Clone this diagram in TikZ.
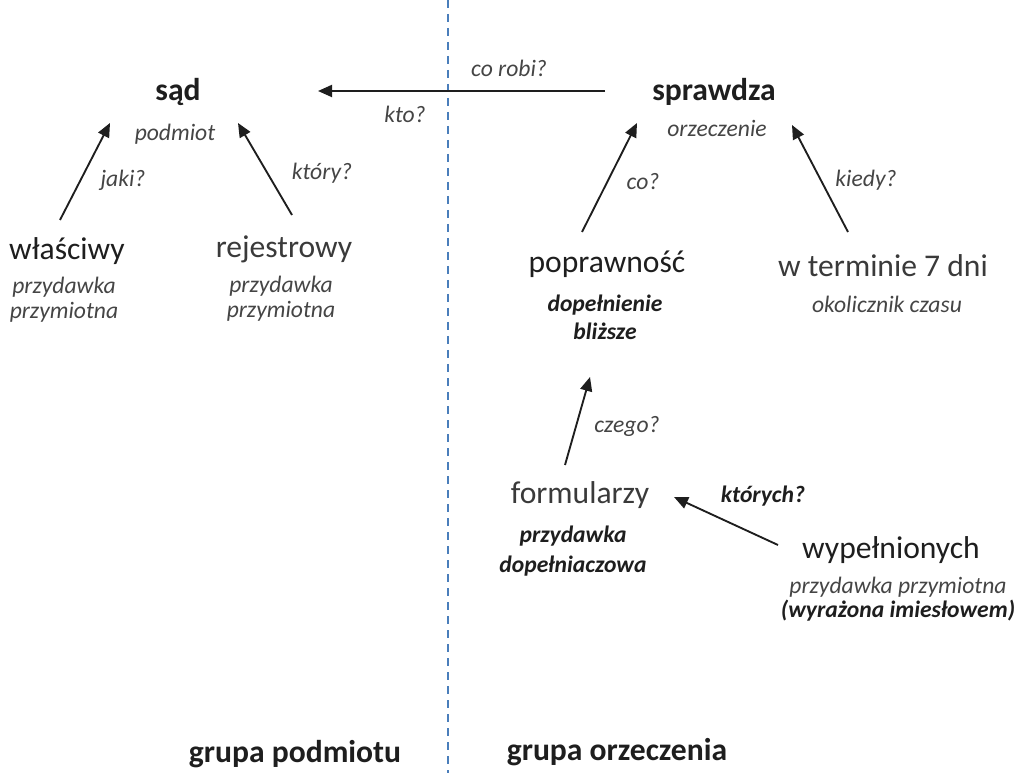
\documentclass[tikz,border=0pt]{standalone}
\usepackage{fontspec}
\setmainfont{Carlito}
\usetikzlibrary{positioning,arrows.meta}

\definecolor{ink}{HTML}{1E1E1E}
\definecolor{soft}{HTML}{3A3A3A}
\definecolor{note}{HTML}{454545}
\definecolor{split}{HTML}{4A7EBB}

\tikzset{
  word/.style={inner sep=0pt, anchor=base, text=ink, font=\fontsize{23.7}{28}\selectfont},
  head/.style={word, font=\fontsize{23.7}{28}\selectfont\bfseries},
  thin/.style={word, text=soft},
  role/.style={inner sep=0pt, anchor=base, align=center, text=note, font=\fontsize{17.7}{18.75}\selectfont\itshape},
  rolebf/.style={role, text=ink, font=\fontsize{17.7}{21}\selectfont\bfseries\itshape},
  arr/.style={-{Triangle[length=10.5pt,width=9pt]}, line width=1.4pt, draw=ink},
}

\begin{document}
\begin{tikzpicture}[x=0.75pt,y=-0.75pt]
  \useasboundingbox (0,0) rectangle (1024,773);

  % --- split between the two groups ---
  \draw[split, line width=1.5pt, dash pattern=on 6pt off 4.5pt] (448,0) -- (448,773);

  % --- subject group ---
  \node[head] (sad) at (178,101) {sąd};
  \node[role] (podmiot) at (175,141) {podmiot};
  \node[word] (wlasciwy) at (67,260) {właściwy};
  \node[role] (wlasciwyRole) at (64,319) {przydawka\\przymiotna};
  \node[thin] (rejestrowy) at (284,258) {rejestrowy};
  \node[role] (rejestrowyRole) at (281,318) {przydawka\\przymiotna};

  % --- predicate group ---
  \node[head] (sprawdza) at (714,101) {sprawdza};
  \node[role] (orzeczenie) at (717,137) {orzeczenie};
  \node[word] (poprawnosc) at (607,273) {poprawność};
  \node[rolebf] (poprawnoscRole) at (605,340) {dopełnienie\\bliższe};
  \node[thin] (termin) at (883,277) {w terminie 7 dni};
  \node[role] (terminRole) at (887,313) {okolicznik czasu};
  \node[thin] (formularzy) at (580,503) {formularzy};
  \node[rolebf, font=\fontsize{17.7}{22.5}\selectfont\bfseries\itshape] (formularzyRole) at (573,572) {przydawka\\dopełniaczowa};
  \node[word] (wypelnionych) at (891,558) {wypełnionych};
  \node[role, font=\fontsize{17.7}{18}\selectfont\itshape] (wypelnionychRole) at (898,617)
    {przydawka przymiotna\\{\bfseries\color{ink}(wyrażona imiesłowem)}};

  % --- questions ---
  \node[role] (corobi) at (509,77) {co robi?};
  \node[role] (kto) at (405,123) {kto?};
  \node[role] (jaki) at (123,187) {jaki?};
  \node[role] (ktory) at (322,180) {który?};
  \node[role] (co) at (643,190) {co?};
  \node[role] (kiedy) at (866,187) {kiedy?};
  \node[role] (czego) at (627,432) {czego?};
  \node[rolebf] (ktorych) at (763,502) {których?};

  % --- group names ---
  \node[head] (grupaP) at (295,762) {grupa podmiotu};
  \node[head] (grupaO) at (617,760) {grupa orzeczenia};

  % --- arrows ---
  \draw[arr] ([shift={(-109,-10)}]sprawdza.base) -- ([shift={(140,-10)}]sad.base);
  \draw[arr] ([shift={(-7,-40)}]wlasciwy.base) -- ([shift={(-65,-18)}]podmiot.base);
  \draw[arr] ([shift={(8,-43)}]rejestrowy.base) -- ([shift={(63,-18)}]podmiot.base);
  \draw[arr] ([shift={(-25,-41)}]poprawnosc.base) -- ([shift={(-80,-14)}]orzeczenie.base);
  \draw[arr] ([shift={(-35,-45)}]termin.base) -- ([shift={(75,-12)}]orzeczenie.base);
  \draw[arr] ([shift={(-15,-38)}]formularzy.base) -- ([shift={(-17,104)}]poprawnosc.base);
  \draw[arr] ([shift={(-113,-13)}]wypelnionych.base) -- ([shift={(94,-6)}]formularzy.base);
\end{tikzpicture}
\end{document}
